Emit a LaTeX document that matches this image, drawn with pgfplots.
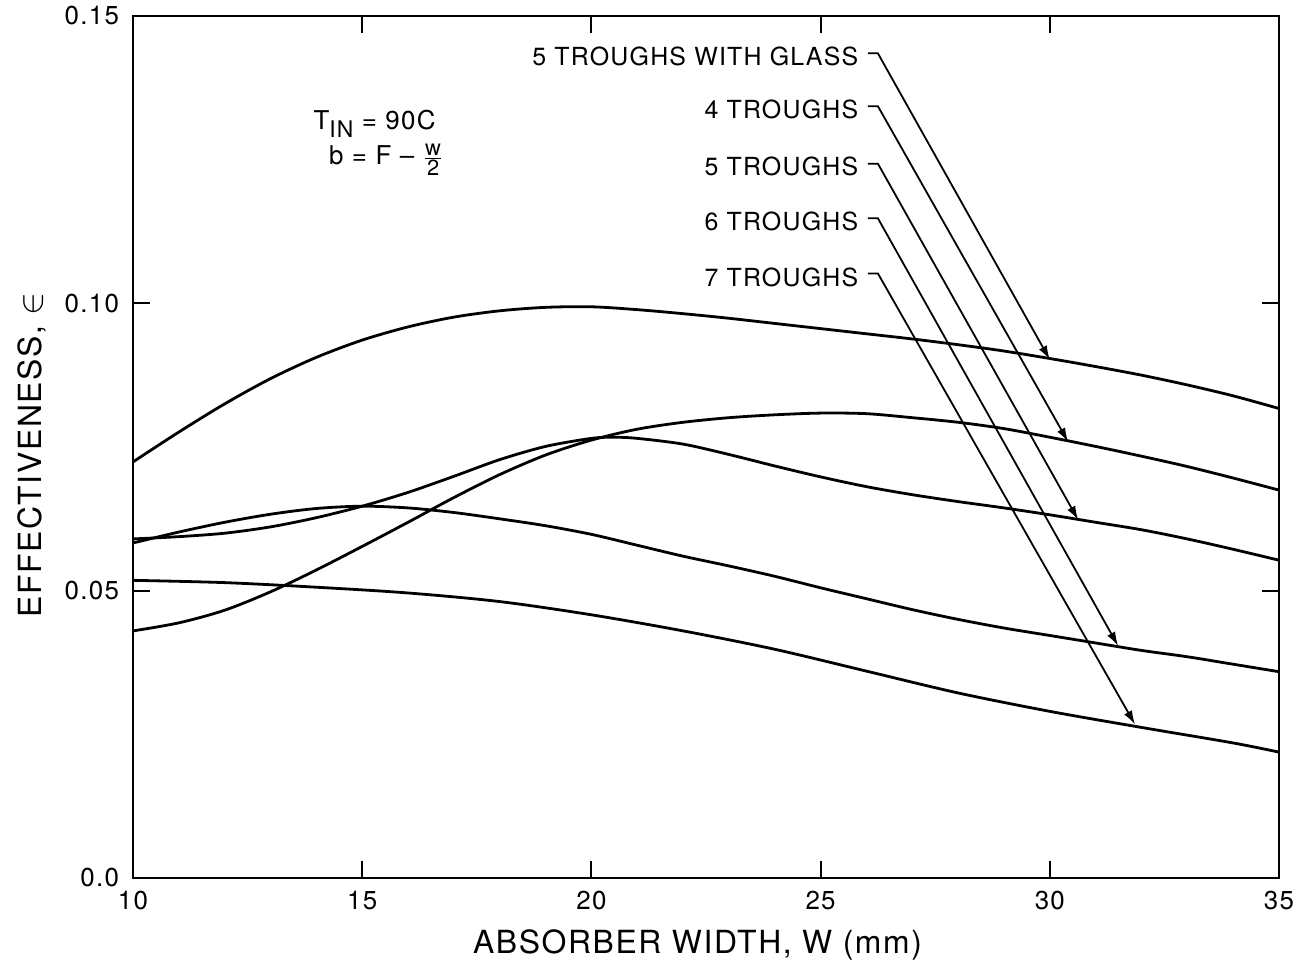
\documentclass[border=0pt]{standalone}
\usepackage{fontspec}
\setmainfont{TeX Gyre Heros}[LetterSpace=5]
\usepackage{pgfplots}
\pgfplotsset{compat=1.18}
\usetikzlibrary{arrows.meta}

\pgfplotstableread{
x y
10 0.0724
11 0.0776
12 0.0825
13 0.0869
14 0.0906
15 0.0936
16 0.0959
17 0.0976
18 0.0987
19 0.0993
20 0.0994
21 0.0989
22 0.0982
23 0.0974
24 0.0965
25 0.0956
26 0.0947
27 0.0938
28 0.0928
29 0.0917
30 0.0904
31 0.0890
32 0.0875
33 0.0858
34 0.0839
35 0.0817
}\glass

\pgfplotstableread{
x y
10 0.0430
11 0.0444
12 0.0466
13 0.0498
14 0.0536
15 0.0577
16 0.0619
17 0.0662
18 0.0702
19 0.0736
20 0.0762
21 0.0781
22 0.0793
23 0.0801
24 0.0806
25 0.0809
26 0.0808
27 0.0801
28 0.0793
29 0.0782
30 0.0767
31 0.0751
32 0.0734
33 0.0716
34 0.0696
35 0.0675
}\four

\pgfplotstableread{
x y
10 0.0590
11 0.0594
12 0.0600
13 0.0611
14 0.0627
15 0.0647
16 0.0671
17 0.0699
18 0.0728
19 0.0751
20 0.0765
20.5 0.0767
21 0.0765
22 0.0755
23 0.0737
24 0.0717
25 0.0698
26 0.0681
27 0.0667
28 0.0655
29 0.0644
30 0.0632
31 0.0619
32 0.0606
33 0.0590
34 0.0572
35 0.0553
}\five

\pgfplotstableread{
x y
10 0.0583
11 0.0602
12 0.0619
13 0.0633
14 0.0643
15 0.0647
16 0.0644
17 0.0636
18 0.0625
19 0.0613
20 0.0598
21 0.0579
22 0.0560
23 0.0543
24 0.0525
25 0.0505
26 0.0486
27 0.0467
28 0.0450
29 0.0435
30 0.0422
31 0.0409
32 0.0396
33 0.0385
34 0.0372
35 0.0359
}\six

\pgfplotstableread{
x y
10 0.0518
12 0.0514
14 0.0506
16 0.0496
18 0.0481
20 0.0458
22 0.0430
24 0.0398
26 0.0360
28 0.0322
30 0.0290
32 0.0262
34 0.0235
35 0.0219
}\seven

\begin{document}
\begin{tikzpicture}
\path[use as bounding box] (-66.5bp,-45.5bp) rectangle (581.5bp,439bp);
\begin{axis}[
  at={(0,0)}, anchor=south west,
  width=573bp, height=431bp, scale only axis,
  xmin=10, xmax=35, ymin=0, ymax=0.15,
  xtick={10,15,20,25,30,35}, xticklabels={10,15,20,25,30,35},
  ytick={0,0.05,0.1,0.15}, yticklabels={0.0,0.05,0.10,0.15},
  /pgf/number format/assume math mode=true,
  tick align=inside, tick pos=both, major tick length=8.5bp,
  axis line style={line width=1.4bp},
  every tick/.style={line width=1bp, black},
  tick label style={font=\fontsize{13}{15}\selectfont},
  xticklabel style={yshift=-3bp},
  yticklabel style={xshift=-3.5bp},
  xlabel={ABSORBER WIDTH, W (mm)},
  ylabel={EFFECTIVENESS, $\in$},
  label style={font=\fontsize{16}{18}\selectfont},
  xlabel style={at={(axis description cs:0.4926,-0.087)}, anchor=base},
  ylabel style={at={(axis description cs:-0.0794,0.4907)}, anchor=base},
  curve/.style={black, line width=1.4bp, smooth, no markers},
]
\addplot[curve] table[x=x,y=y] {\glass};
\addplot[curve] table[x=x,y=y] {\four};
\addplot[curve] table[x=x,y=y] {\five};
\addplot[curve] table[x=x,y=y] {\six};
\addplot[curve] table[x=x,y=y] {\seven};

\begin{scope}[every node/.style={anchor=east, inner sep=0pt, font=\fontsize{12.5}{14}\selectfont}]
\node at (axis cs:25.83,0.1429) {5 TROUGHS WITH GLASS};
\node at (axis cs:25.83,0.1338) {4 TROUGHS};
\node at (axis cs:25.83,0.1238) {5 TROUGHS};
\node at (axis cs:25.83,0.1143) {6 TROUGHS};
\node at (axis cs:25.83,0.1045) {7 TROUGHS};
\end{scope}

\begin{scope}[line width=0.9bp, -{Latex[length=7bp,width=4.5bp]}]
\draw (axis cs:26.03,0.1435) -- (axis cs:26.25,0.1435) -- (axis cs:30.0,0.0902);
\draw (axis cs:26.03,0.1343) -- (axis cs:26.25,0.1343) -- (axis cs:30.40,0.0759);
\draw (axis cs:26.03,0.1243) -- (axis cs:26.25,0.1243) -- (axis cs:30.62,0.0623);
\draw (axis cs:26.03,0.1148) -- (axis cs:26.25,0.1148) -- (axis cs:31.49,0.0404);
\draw (axis cs:26.03,0.1052) -- (axis cs:26.25,0.1052) -- (axis cs:31.86,0.0267);
\end{scope}

\node[anchor=east, inner sep=0pt, font=\fontsize{13}{15}\selectfont] at (axis cs:16.61,0.1313)
  {T\raisebox{-4bp}{\fontsize{11.5}{13}\selectfont IN} = 90C};
\node[anchor=east, inner sep=0pt, font=\fontsize{13}{15}\selectfont] at (axis cs:16.78,0.1250)
  {b = F -- $\frac{\textrm{\fontsize{11}{12}\selectfont w}}{\textrm{\fontsize{11}{12}\selectfont 2}}$};
\end{axis}
\end{tikzpicture}
\end{document}
